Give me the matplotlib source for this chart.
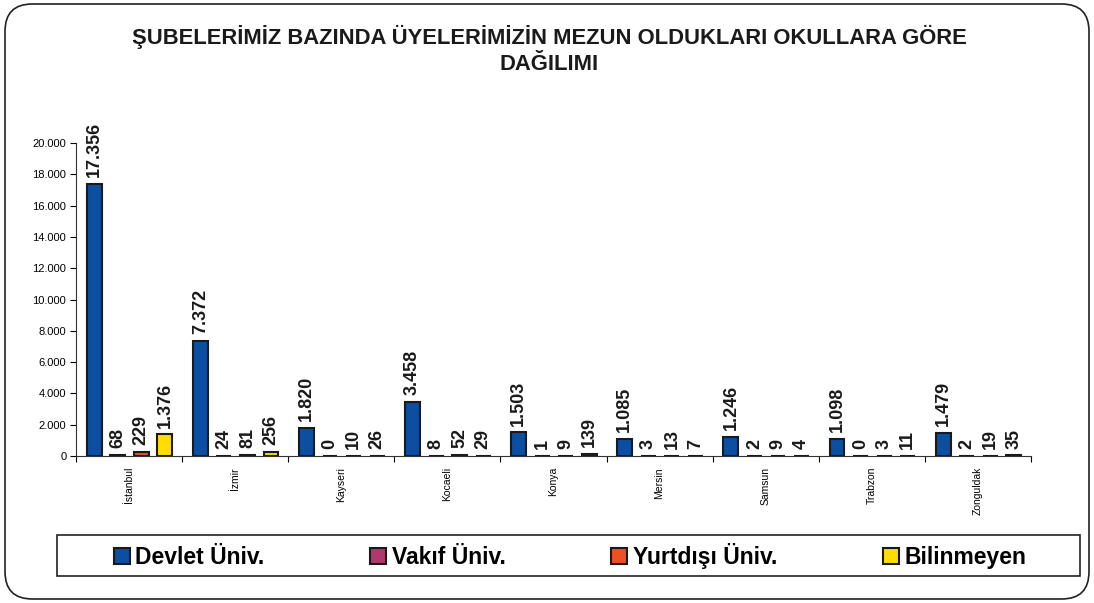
import matplotlib
matplotlib.use("Agg")
import matplotlib.pyplot as plt
import numpy as np
from matplotlib.patches import FancyBboxPatch, Patch, Rectangle
from matplotlib.ticker import FuncFormatter

plt.rcParams['font.family'] = ['Liberation Sans', 'DejaVu Sans']

categories = ["İstanbul", "İzmir", "Kayseri", "Kocaeli", "Konya", "Mersin", "Samsun", "Trabzon", "Zonguldak"]
series_names = ["Devlet Üniv.", "Vakıf Üniv.", "Yurtdışı Üniv.", "Bilinmeyen"]
devlet = [17356, 7372, 1820, 3458, 1503, 1085, 1246, 1098, 1479]
vakif = [68, 24, 0, 8, 1, 3, 2, 0, 2]
yurtdisi = [229, 81, 10, 52, 9, 13, 9, 3, 19]
bilinmeyen = [1376, 256, 26, 29, 139, 7, 4, 11, 35]
colors = ["#0B4EA2", "#B0386C", "#F04E23", "#FFDD00"]
title = "ŞUBELERİMİZ BAZINDA ÜYELERİMİZİN MEZUN OLDUKLARI OKULLARA GÖRE\nDAĞILIMI"

fig = plt.figure(figsize=(10.94, 6.03), dpi=100)
# rounded frame
frame = FancyBboxPatch((5/1094, 4/603), 1084/1094, 595/603,
                       boxstyle="round,pad=0,rounding_size=0.025",
                       transform=fig.transFigure, fill=False, edgecolor="#222222",
                       linewidth=1.2, mutation_aspect=1094/603)
fig.patches.append(frame)

ax = fig.add_axes([76/1094, 1-456/603, (1031-76)/1094, (456-143)/603])
x = np.arange(len(categories))
w = 0.14
step = 0.222
offsets = [-1.5*step, -0.5*step, 0.5*step, 1.5*step]
all_series = [devlet, vakif, yurtdisi, bilinmeyen]
for vals, off, c in zip(all_series, offsets, colors):
    bars = ax.bar(x + 0.5 + off + 0.005, vals, width=w, color=c, edgecolor="#1a1a1a", linewidth=1.5)
    for b, v in zip(bars, vals):
        ax.annotate(f"{v:,}".replace(",", "."), (b.get_x() + b.get_width()/2, b.get_height()),
                    xytext=(0, 5), textcoords="offset points", rotation=90,
                    ha="center", va="bottom", fontsize=13, fontweight="bold", color="#1a1a1a")

ax.set_xlim(0, len(categories))
ax.set_ylim(0, 20000)
ax.set_yticks(np.arange(0, 20001, 2000))
ax.yaxis.set_major_formatter(FuncFormatter(lambda v, p: f"{int(v):,}".replace(",", ".")))
ax.set_xticks(np.arange(0, len(categories)+1))
ax.set_xticklabels([])
ax.set_xticks(x + 0.5, minor=True)
ax.set_xticklabels(categories, minor=True, rotation=90, fontsize=7.5, va="top")
ax.tick_params(axis="x", which="minor", length=0, pad=8)
ax.tick_params(axis="x", which="major", length=4, direction="out")
ax.tick_params(axis="y", labelsize=8, length=4, pad=3)
for s in ["top", "right"]:
    ax.spines[s].set_visible(False)
for s in ["left", "bottom"]:
    ax.spines[s].set_color("#333333")

fig.text(549/1094, 1-50/603, title, ha="center", va="center", fontsize=15.8, fontweight="bold",
         color="#1a1a1a", linespacing=1.35)

# legend frame
fig.patches.append(Rectangle((57/1094, 1-576/603), (1080-57)/1094, 41/603,
                             transform=fig.transFigure, fill=False,
                             edgecolor="#222222", linewidth=1.2))
handles = [Patch(facecolor=c, edgecolor="#1a1a1a", linewidth=1.5) for c in colors]
leg = fig.legend(handles, series_names, loc="center", ncol=4,
                 bbox_to_anchor=(570/1094, 1-556/603),
                 prop={"size": 16.5, "weight": "bold"}, frameon=False,
                 handlelength=0.7, handleheight=0.7, handletextpad=0.25, borderaxespad=0,
                 columnspacing=4.6)

fig.savefig("out.png", dpi=100)
